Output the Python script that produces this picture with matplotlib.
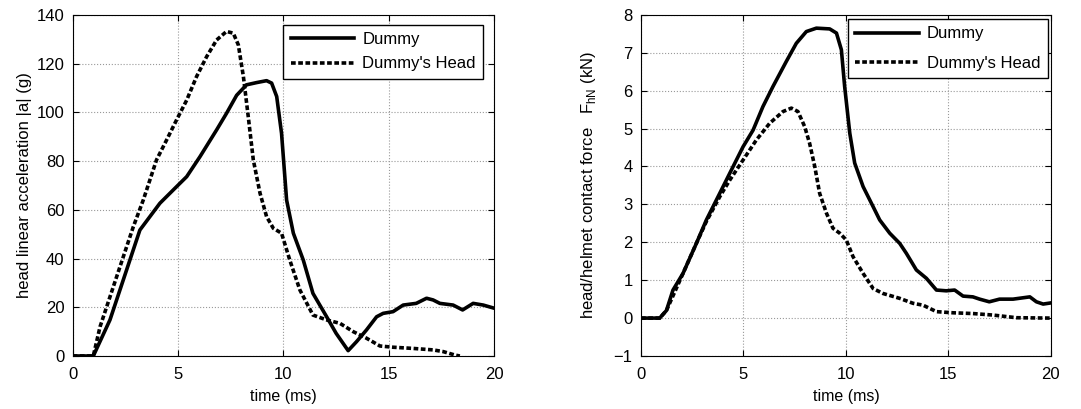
import matplotlib
matplotlib.use('Agg')
import matplotlib.pyplot as plt

plt.rcParams['font.family'] = ['Liberation Sans', 'DejaVu Sans']
plt.rcParams['mathtext.fontset'] = 'custom'
plt.rcParams['mathtext.rm'] = 'Liberation Sans'

# left: head linear acceleration (g)
t_dummy_a = [0, 0.98, 1.77, 3.19, 4.14, 4.93, 5.41, 6.04, 6.83, 7.3, 7.78, 8.25, 8.72, 9.2, 9.44,
             9.68, 9.91, 10.15, 10.47, 10.94, 11.4, 12.05, 12.5, 13.07, 13.47, 13.94, 14.42, 14.73,
             15.2, 15.68, 16.3, 16.79, 17.1, 17.42, 18.05, 18.5, 19.0, 19.48, 20]
a_dummy = [0, 0, 14.8, 51.7, 62.7, 69.5, 73.6, 81.8, 92.8, 99.6, 107, 111.3, 112.2, 113, 112,
           106.5, 91.4, 64, 50.4, 39.4, 25.7, 16.1, 9.3, 2.2, 5.9, 10.7, 16.1, 17.5,
           18.2, 20.9, 21.6, 23.7, 23, 21.6, 20.9, 18.9, 21.6, 20.9, 19.6]

t_head_a = [0, 0.98, 1.3, 2.09, 2.88, 3.35, 3.98, 4.46, 4.93, 5.41, 5.88, 6.36, 6.83, 7.3, 7.62,
            7.86, 8.1, 8.33, 8.57, 8.89, 9.2, 9.52, 9.91, 10.3, 10.78, 11.4, 12.05, 12.68, 13.31,
            13.94, 14.58, 15.2, 16.16, 17.1, 17.58, 18.13, 18.37]
a_head = [0, 0, 12, 32.6, 53.1, 64, 80.5, 88.7, 96.9, 105, 114.7, 122.9, 129.7, 133.2, 132.5,
          127.7, 114.7, 98.3, 80.5, 66.8, 57.2, 52.4, 50.4, 39.4, 27.1, 16.8, 14.8, 13.4, 10,
          7.3, 4.1, 3.6, 3.1, 2.5, 1.8, 0.4, 0]

# right: head/helmet contact force (kN)
t_dummy_f = [0, 0.91, 1.24, 1.56, 2.05, 2.7, 3.19, 3.84, 4.33, 4.98, 5.47, 5.95, 6.44, 7.09, 7.58,
             8.07, 8.56, 9.21, 9.54, 9.78, 9.94, 10.19, 10.43, 10.84, 11.33, 11.65, 12.14, 12.63,
             12.95, 13.44, 13.93, 14.42, 14.9, 15.31, 15.72, 16.2, 16.53, 17.0, 17.5, 18.16,
             18.98, 19.3, 19.63, 20]
f_dummy = [0, 0, 0.2, 0.74, 1.18, 1.97, 2.59, 3.29, 3.82, 4.52, 4.96, 5.58, 6.11, 6.77, 7.25,
           7.56, 7.65, 7.63, 7.52, 7.08, 6.11, 4.88, 4.09, 3.47, 2.94, 2.59, 2.24, 1.97,
           1.71, 1.27, 1.05, 0.74, 0.72, 0.74, 0.58, 0.56, 0.5, 0.43, 0.5, 0.5,
           0.56, 0.43, 0.37, 0.4]

t_head_f = [0, 0.91, 1.24, 2.05, 2.7, 3.19, 3.84, 4.33, 4.98, 5.63, 6.28, 6.93, 7.34, 7.66, 7.99,
            8.23, 8.48, 8.72, 9.05, 9.37, 9.7, 10.02, 10.35, 10.84, 11.33, 11.81, 12.63, 13.28,
            13.77, 14.42, 15.23, 16.2, 17.18, 18.32, 20]
f_head = [0, 0, 0.2, 1.18, 1.97, 2.55, 3.2, 3.64, 4.17, 4.7, 5.14, 5.45, 5.54, 5.45, 5.05,
          4.61, 4.0, 3.29, 2.77, 2.37, 2.24, 2.06, 1.62, 1.18, 0.78, 0.65, 0.52, 0.39,
          0.34, 0.17, 0.14, 0.12, 0.08, 0.01, 0]

fig = plt.figure(figsize=(10.81, 4.09), dpi=100)
ax1 = fig.add_axes([0.0672, 0.1296, 0.390, 0.834])
ax2 = fig.add_axes([0.593, 0.1296, 0.379, 0.834])


def style(ax):
    ax.grid(True, linestyle=':', color='#999999', linewidth=0.8)
    ax.tick_params(direction='in', top=True, right=True, labelsize=12, length=4, pad=6)
    ax.tick_params(axis='x', pad=8)
    for s in ax.spines.values():
        s.set_linewidth(0.8)
    ax.set_xlim(0, 20)
    ax.set_xticks([0, 5, 10, 15, 20])
    ax.set_xlabel('time (ms)', fontsize=11.5, labelpad=5)


leg_kw = dict(loc='upper right', fontsize=12, fancybox=False, edgecolor='black',
              framealpha=1, handlelength=3.8, handletextpad=0.5, borderpad=0.45,
              borderaxespad=0)

ax1.plot(t_dummy_a, a_dummy, color='black', linewidth=2.6, label='Dummy')
ax1.plot(t_head_a, a_head, color='black', linewidth=2.6, linestyle=(0, (1.3, 0.7)), label="Dummy's Head")
style(ax1)
ax1.set_ylim(0, 140)
ax1.set_yticks(range(0, 141, 20))
ax1.set_ylabel('head linear acceleration |a| (g)', fontsize=12, labelpad=3)
ax1.legend(bbox_to_anchor=(0.974, 0.971), labelspacing=0.55, **leg_kw)

ax2.plot(t_dummy_f, f_dummy, color='black', linewidth=2.6, label='Dummy')
ax2.plot(t_head_f, f_head, color='black', linewidth=2.6, linestyle=(0, (1.3, 0.7)), label="Dummy's Head")
style(ax2)
ax2.set_ylim(-1, 8)
ax2.set_yticks(range(-1, 9))
ax2.set_ylabel(r'head/helmet contact force   $\mathrm{F}_{\mathrm{hN}}$ (kN)', fontsize=12, labelpad=11)
ax2.legend(bbox_to_anchor=(0.993, 0.988), labelspacing=0.85, **leg_kw)

fig.savefig('out.png', dpi=100)
